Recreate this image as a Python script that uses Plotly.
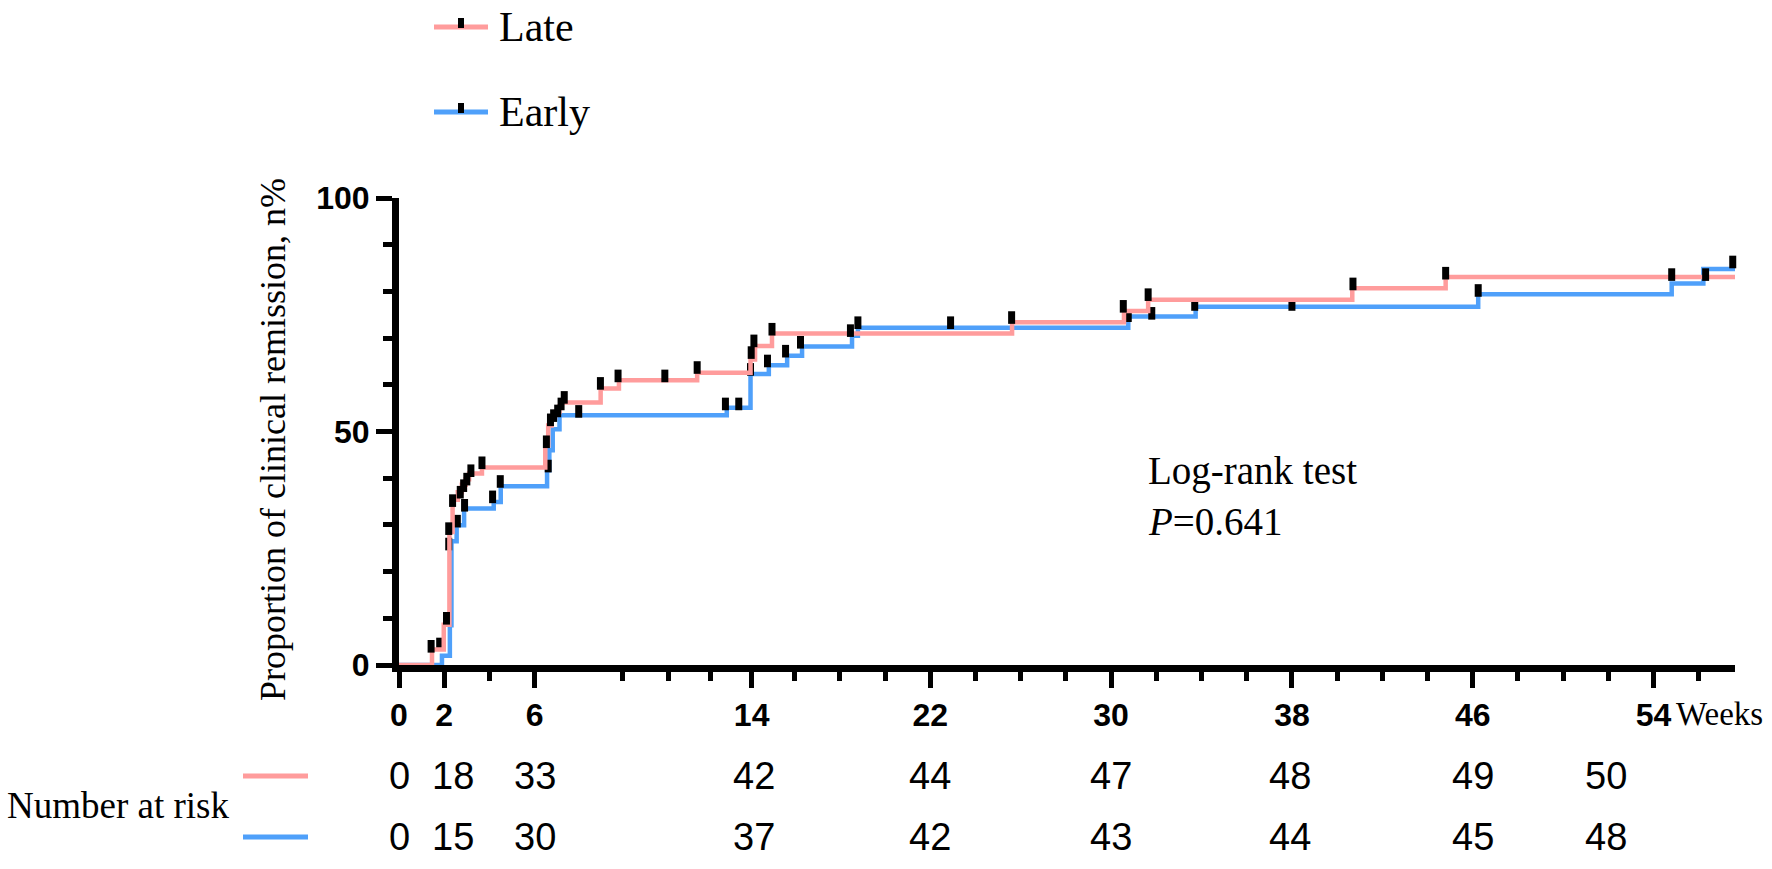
import plotly.graph_objects as go

# ---------------- data (x in axis weeks, y in %) ----------------
LATE_T = [0, 1.46, 1.98, 2.23, 2.37, 2.6, 2.78, 2.95, 3.1, 3.67, 6.47, 6.6, 6.75, 6.9, 7.1, 7.2,
          8.92, 9.73, 13.19, 15.55, 15.75, 16.5, 27.12, 32.07, 33.14, 42.17, 46.3, 59.1]
LATE_Y = [0, 3.3, 8.6, 28.5, 35.4, 37.0, 38.6, 39.8, 41.0, 42.3, 47.0, 51.3, 53.0, 54.2, 55.4, 56.2,
          59.2, 61.0, 62.6, 65.4, 68.3, 71.0, 73.4, 75.8, 78.2, 80.7, 83.1, 83.1]
LATE_CENS_T = [1.42, 2.1, 2.2, 2.37, 2.71, 2.86, 3.0, 3.18, 3.67, 6.52, 6.7, 6.84, 7.02, 7.17, 7.31,
               8.91, 9.69, 11.76, 13.19, 15.58, 15.7, 16.5, 19.97, 27.1, 32.04, 33.14, 42.2, 46.3, 56.3, 57.8]
LATE_CENS_Y = [4.0, 10.0, 29.2, 35.2, 37.0, 38.4, 39.8, 41.6, 43.3, 47.8, 52.5, 53.4, 54.4, 55.9, 57.3,
               60.3, 61.9, 61.9, 63.7, 66.9, 69.4, 71.9, 71.6, 74.4, 76.8, 79.3, 81.6, 83.9, 83.6, 83.6]

EARLY_T = [0, 1.9, 2.25, 2.32, 2.55, 2.88, 4.19, 4.5, 6.55, 6.65, 6.8, 7.1, 14.5, 15.55, 16.36, 17.17,
           17.83, 20.04, 20.3, 32.26, 35.24, 47.74, 56.3, 57.7, 59.1]
EARLY_Y = [0, 2.0, 8.5, 26.5, 29.9, 33.5, 34.9, 38.3, 41.7, 46.0, 50.5, 53.5, 55.1, 62.3, 64.2, 66.2,
           68.2, 70.5, 72.2, 74.6, 76.7, 79.4, 81.7, 84.8, 84.8]
EARLY_CENS_T = [1.8, 2.2, 2.58, 2.9, 4.14, 4.48, 6.6, 7.95, 14.44, 15.03, 15.55, 16.3, 17.1, 17.76,
                20.3, 24.4, 32.26, 33.3, 35.2, 39.5, 47.74, 59.0]
EARLY_CENS_Y = [4.5, 25.9, 30.8, 34.2, 36.0, 39.3, 42.6, 54.3, 55.9, 55.9, 63.3, 65.1, 67.2, 69.1,
                73.3, 73.3, 74.8, 75.3, 77.2, 77.2, 80.2, 86.3]

TICK_POS = [0, 2, 6, 15.6, 23.5, 31.5, 39.5, 47.5, 55.5]
TICK_LABELS = ["0", "2", "6", "14", "22", "30", "38", "46", "54"]
MINOR_POS = [4, 9.9, 11.9, 13.8, 17.5, 19.5, 21.5, 25.5, 27.5, 29.5, 33.5, 35.5, 37.5,
             41.5, 43.5, 45.5, 49.5, 51.5, 53.5, 57.5]

RISK_POS = [0, 2.4, 6.0, 15.7, 23.5, 31.5, 39.4, 47.5, 53.4]
RISK_LATE = [0, 18, 33, 42, 44, 47, 48, 49, 50]
RISK_EARLY = [0, 15, 30, 37, 42, 43, 44, 45, 48]

# ---------------- styling ----------------
W, H = 1772, 869
ML, MR, MT, MB = 399, 37, 198, 204
PINK = "#FF9C9C"
BLUE = "#4FA0FA"
SERIF = "Liberation Serif, Times New Roman, serif"
SANS = "Liberation Sans, Arial, sans-serif"


def px(x):
    return (x - ML) / (W - ML - MR)


def py(y):
    return (H - MB - y) / (H - MT - MB)


fig = go.Figure()
for t, y, ct, cy, col, name in [
    (EARLY_T, EARLY_Y, EARLY_CENS_T, EARLY_CENS_Y, BLUE, "Early"),
    (LATE_T, LATE_Y, LATE_CENS_T, LATE_CENS_Y, PINK, "Late"),
]:
    fig.add_trace(go.Scatter(x=t, y=y, mode="lines", line=dict(color=col, width=4.5, shape="hv"),
                             name=name, showlegend=False, cliponaxis=False, hoverinfo="skip"))
    fig.add_trace(go.Scatter(x=ct, y=cy, mode="markers", showlegend=False, cliponaxis=False,
                             hoverinfo="skip",
                             marker=dict(symbol="line-ns", size=9, color="black",
                                         line=dict(width=7, color="black"))))

fig.update_layout(
    width=W, height=H, margin=dict(l=ML, r=MR, t=MT, b=MB),
    paper_bgcolor="white", plot_bgcolor="white", showlegend=False,
)
fig.update_xaxes(
    range=[0, 59.1], showline=True, linewidth=7, linecolor="black", showgrid=False, zeroline=False,
    ticks="outside", tickmode="array", tickvals=TICK_POS, ticktext=TICK_LABELS,
    ticklen=16, tickwidth=5, tickcolor="black", layer="below traces",
    tickfont=dict(family=SANS, size=32, color="black", weight="bold"),
    minor=dict(tickvals=MINOR_POS, ticks="outside", ticklen=9, tickwidth=5, tickcolor="black"),
)
fig.update_yaxes(
    range=[0, 100], showline=True, linewidth=7, linecolor="black", showgrid=False, zeroline=False,
    ticks="outside", tickmode="array", tickvals=[0, 50, 100], ticklen=16, tickwidth=5,
    tickcolor="black", layer="below traces",
    tickfont=dict(family=SANS, size=32, color="black", weight="bold"),
    minor=dict(dtick=10, ticks="outside", ticklen=9, tickwidth=5, tickcolor="black"),
)


def note(x, y, text, size, family=SERIF, xanchor="left", xref="paper", **kw):
    return dict(x=x, y=y, xref=xref, yref="paper", text=text, showarrow=False, xanchor=xanchor,
                yanchor="middle", font=dict(family=family, size=size, color="black"), **kw)


ann = []
shapes = []
# y-axis title
ann.append(note(px(273), py(440), "Proportion of clinical remission, n%", 36, xanchor="center", textangle=-90))
# Weeks label
ann.append(note(px(1674), py(714), "Weeks", 33))
# Log-rank text
ann.append(note(px(1146), py(471), "Log-rank test", 39))
ann.append(note(px(1146), py(521), "<i>P</i>=0.641", 39))
# legend
for name, col, yy in [("Late", PINK, 27), ("Early", BLUE, 112)]:
    shapes.append(dict(type="line", xref="paper", yref="paper", x0=px(434), x1=px(488), y0=py(yy), y1=py(yy),
                       line=dict(color=col, width=5)))
    shapes.append(dict(type="rect", xref="paper", yref="paper", x0=px(458), x1=px(464), y0=py(yy - 9),
                       y1=py(yy + 1), fillcolor="black", line=dict(width=0)))
    ann.append(note(px(497), py(yy), name, 42))
# number at risk
ann.append(note(px(5), py(805), "Number at risk", 37))
for col, yy, vals in [(PINK, 776, RISK_LATE), (BLUE, 837, RISK_EARLY)]:
    shapes.append(dict(type="line", xref="paper", yref="paper", x0=px(243), x1=px(308), y0=py(yy), y1=py(yy),
                       line=dict(color=col, width=5)))
    for xv, v in zip(RISK_POS, vals):
        ann.append(note(xv, py(yy), str(v), 38, family=SANS, xanchor="center", xref="x"))

fig.update_layout(annotations=ann, shapes=shapes, hovermode=False)
fig.write_html("out.html", config={"displayModeBar": False},
               post_script="document.body.style.margin='0';")
